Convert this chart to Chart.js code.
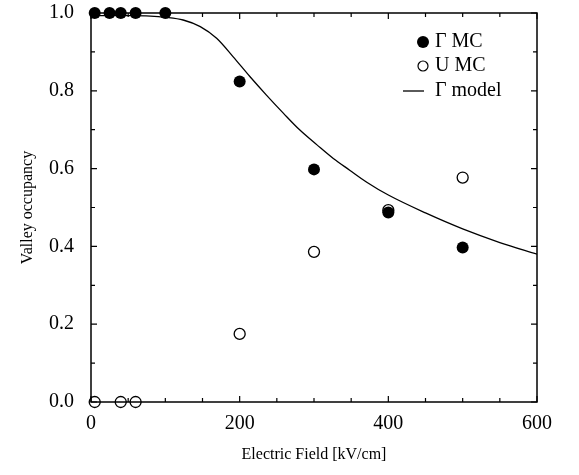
<!DOCTYPE html>
<html lang="en">
<head>
<meta charset="UTF-8">
<title>Valley occupancy</title>
<script src="https://cdn.jsdelivr.net/npm/chart.js"></script>
<style>
  body { margin: 0; background: #fff; }
  #wrap { position: relative; width: 579px; height: 475px; }
</style>
</head>
<body>
<div id="wrap"><canvas id="grafico"></canvas></div>
<script>
// valores
const campoGammaMC = [5, 25, 40, 60, 100, 200, 300, 400, 500];
const ocupGammaMC  = [1.0, 1.0, 1.0, 1.0, 1.0, 0.824, 0.598, 0.487, 0.397];

const campoUMC = [5, 40, 60, 200, 300, 400, 500];
const ocupUMC  = [0.0, 0.0, 0.0, 0.175, 0.386, 0.493, 0.577];

const campoModelo = [0, 50, 80, 100, 124, 147, 169, 191, 214, 236, 259, 281, 304, 326, 348, 371, 400, 450, 500, 550, 600];
const ocupModelo  = [0.993, 0.993, 0.992, 0.989, 0.982, 0.965, 0.935, 0.888, 0.836, 0.789, 0.742, 0.699, 0.661, 0.626, 0.596, 0.565, 0.532, 0.486, 0.445, 0.410, 0.380];

const ticksX = [0, 200, 400, 600];
const ticksY = [0, 0.2, 0.4, 0.6, 0.8, 1.0];
const menoresX = [50, 100, 150, 250, 300, 350, 450, 500, 550];
const menoresY = [0.1, 0.3, 0.5, 0.7, 0.9];

const fonte = "'Liberation Serif', 'DejaVu Serif', serif";

function pares(xs, ys) {
  return xs.map((x, i) => ({ x: x, y: ys[i] }));
}

// moldura e tracinhos para dentro nos quatro lados
const moldura = {
  id: 'moldura',
  afterDatasetsDraw(chart) {
    const ctx = chart.ctx;
    const a = chart.chartArea;
    const sx = chart.scales.x, sy = chart.scales.y;
    ctx.save();
    ctx.strokeStyle = '#000';
    ctx.lineWidth = 1.5;
    ctx.strokeRect(a.left, a.top, a.right - a.left, a.bottom - a.top);
    ctx.lineWidth = 1.2;
    ctx.beginPath();
    function tickX(v, len) {
      const p = sx.getPixelForValue(v);
      ctx.moveTo(p, a.bottom); ctx.lineTo(p, a.bottom - len);
      ctx.moveTo(p, a.top); ctx.lineTo(p, a.top + len);
    }
    function tickY(v, len) {
      const p = sy.getPixelForValue(v);
      ctx.moveTo(a.left, p); ctx.lineTo(a.left + len, p);
      ctx.moveTo(a.right, p); ctx.lineTo(a.right - len, p);
    }
    ticksX.forEach(v => tickX(v, 6));
    menoresX.forEach(v => tickX(v, 4));
    ticksY.forEach(v => tickY(v, 6));
    menoresY.forEach(v => tickY(v, 4));
    ctx.stroke();

    // legenda
    ctx.font = '20px ' + fonte;
    ctx.fillStyle = '#000';
    ctx.textBaseline = 'middle';
    ctx.textAlign = 'left';
    const mx = 423, tx = 435;
    ctx.beginPath();
    ctx.arc(mx, 42, 6, 0, Math.PI * 2);
    ctx.fill();
    ctx.fillText('\u0393 MC', tx, 42);
    ctx.beginPath();
    ctx.lineWidth = 1.2;
    ctx.arc(mx, 66, 5, 0, Math.PI * 2);
    ctx.stroke();
    ctx.fillText('U MC', tx, 66);
    ctx.beginPath();
    ctx.lineWidth = 1.3;
    ctx.moveTo(403, 91); ctx.lineTo(424, 91);
    ctx.stroke();
    ctx.fillText('\u0393 model', tx, 91);
    ctx.restore();
  }
};

const dados = {
  datasets: [
    {
      label: '\u0393 MC',
      data: pares(campoGammaMC, ocupGammaMC),
      showLine: false,
      clip: false,
      pointStyle: 'circle',
      pointRadius: 6,
      pointBackgroundColor: '#000',
      pointBorderColor: '#000',
      pointBorderWidth: 0,
      order: 0
    },
    {
      label: 'U MC',
      data: pares(campoUMC, ocupUMC),
      showLine: false,
      clip: false,
      pointStyle: 'circle',
      pointRadius: 5.5,
      pointBackgroundColor: '#fff',
      pointBorderColor: '#000',
      pointBorderWidth: 1.3,
      order: 1
    },
    {
      label: '\u0393 model',
      data: pares(campoModelo, ocupModelo),
      showLine: true,
      borderColor: '#000',
      borderWidth: 1.3,
      pointRadius: 0,
      cubicInterpolationMode: 'monotone',
      order: 2
    }
  ]
};

const config = {
  type: 'scatter',
  data: dados,
  options: {
    responsive: true,
    maintainAspectRatio: false,
    animation: false,
    layout: { autoPadding: false, padding: { top: 13, right: 42, left: 0, bottom: 0 } },
    plugins: { legend: { display: false }, tooltip: { enabled: false } },
    scales: {
      x: {
        type: 'linear',
        min: 0, max: 600,
        afterFit: s => { s.height = 73; },
        afterBuildTicks: s => { s.ticks = ticksX.map(v => ({ value: v })); },
        grid: { display: false, drawTicks: false },
        border: { display: false },
        ticks: { color: '#000', padding: 10, maxRotation: 0, font: { family: fonte, size: 20 } },
        title: { display: true, text: 'Electric Field [kV/cm]', color: '#000', padding: { top: 0, bottom: 11 }, font: { family: fonte, size: 16 } }
      },
      y: {
        type: 'linear',
        min: 0, max: 1,
        afterFit: s => { s.width = 91; s.paddingTop = 0; s.paddingBottom = 0; },
        afterBuildTicks: s => { s.ticks = ticksY.map(v => ({ value: v })); },
        grid: { display: false, drawTicks: false },
        border: { display: false },
        ticks: { color: '#000', padding: 17, font: { family: fonte, size: 20, lineHeight: 0.5 }, callback: v => v.toFixed(1) },
        title: { display: true, text: 'Valley occupancy', color: '#000', padding: { top: 18, bottom: 0 }, font: { family: fonte, size: 16 } }
      }
    }
  },
  plugins: [moldura]
};

let meuGrafico = new Chart(document.getElementById('grafico'), config);
</script>
</body>
</html>
